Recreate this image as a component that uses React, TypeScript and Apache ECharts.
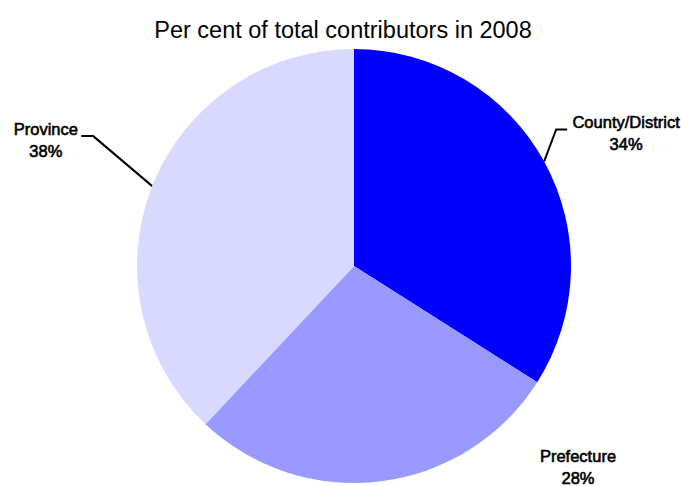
import React, { useEffect, useRef } from "react";
import * as echarts from "echarts";

const categories = ["County/District", "Prefecture", "Province"];
const shares = [34, 28, 38];
const sliceColors = ["#0000FF", "#9999FF", "#D9D9FF"];
const titleText = "Per cent of total contributors in 2008";

// leader-line layout per slice (relative to the slice's edge point)
const leaders: ({ bend: number[]; run: number; gap: number } | null)[] = [
  { bend: [12, -32], run: 11, gap: 5 },
  null,
  { bend: [-59, -50], run: -12, gap: 3 },
];

export default function App() {
  const ref = useRef<HTMLDivElement>(null);
  useEffect(() => {
    document.body.style.margin = "0";
    const chart = echarts.init(ref.current!, null, { renderer: "svg" });
    const data = categories.map((name, i) => ({
      name,
      value: shares[i],
      itemStyle: { color: sliceColors[i] },
      labelLine: { show: leaders[i] !== null },
    }));
    chart.setOption({
      animation: false,
      backgroundColor: "#ffffff",
      title: {
        text: titleText,
        left: 338,
        top: 13,
        textAlign: "center",
        textStyle: {
          fontFamily: "Liberation Sans, Arial, sans-serif",
          fontSize: 23.5,
          fontWeight: "normal",
          color: "#000",
        },
      },
      series: [
        {
          type: "pie",
          center: [354, 266],
          radius: 217,
          startAngle: 90,
          clockwise: true,
          percentPrecision: 0,
          data,
          itemStyle: { borderWidth: 0 },
          emphasis: { disabled: true },
          label: {
            show: true,
            position: "outside",
            formatter: "{b}\n{d}%",
            color: "#000",
            fontFamily: "Liberation Sans, Arial, sans-serif",
            fontSize: 16.5,
            lineHeight: 22,
            align: "center",
            overflow: "none",
            textBorderColor: "#000",
            textBorderWidth: 0.6,
          },
          labelLine: {
            show: true,
            length: 20,
            length2: 10,
            lineStyle: { color: "#000", width: 2 },
          },
          labelLayout: (p: any) => {
            const lead = leaders[p.dataIndex];
            const w = p.labelRect.width;
            if (!lead || !p.labelLinePoints) {
              return { x: 578, y: 445, align: "center", verticalAlign: "top" };
            }
            const s = p.labelLinePoints[0];
            const b = [s[0] + lead.bend[0], s[1] + lead.bend[1]];
            const e = [b[0] + lead.run, b[1]];
            const dir = lead.run > 0 ? 1 : -1;
            return {
              x: e[0] + dir * (lead.gap + w / 2),
              y: e[1] - 18,
              align: "center",
              verticalAlign: "top",
              labelLinePoints: [s, b, e],
            };
          },
        },
      ],
    });
    return () => chart.dispose();
  }, []);
  return <div ref={ref} style={{ width: 681, height: 486 }} />;
}
